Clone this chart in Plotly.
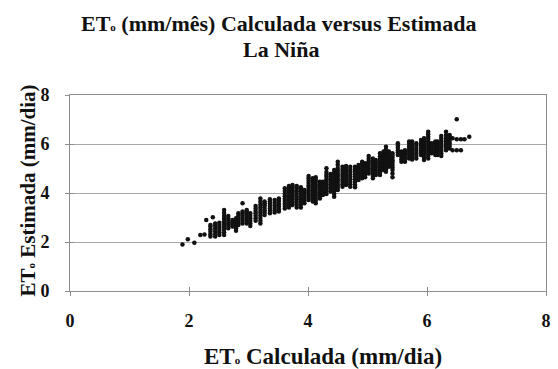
import plotly.graph_objects as go

# ET0 calculada (x) columns and the ET0 estimada (y) values read in each column
col_x = [1.89, 1.98, 2.09, 2.19, 2.26, 2.29, 2.36, 2.40, 2.44, 2.51,
         2.59, 2.66, 2.73, 2.79, 2.83, 2.90, 2.97, 3.03, 3.12, 3.20,
         3.27, 3.36, 3.44, 3.51, 3.61, 3.68, 3.74, 3.81, 3.88, 3.94,
         4.01, 4.08, 4.13, 4.20, 4.25, 4.31, 4.38, 4.44, 4.50, 4.58,
         4.64, 4.71, 4.79, 4.85, 4.91, 4.96, 5.02, 5.09, 5.14, 5.21,
         5.27, 5.31, 5.36, 5.42, 5.51, 5.57, 5.63, 5.70, 5.75, 5.82,
         5.90, 5.95, 6.02, 6.08, 6.14, 6.18, 6.24, 6.32, 6.38, 6.43,
         6.50, 6.57, 6.63, 6.71]

col_y = [
    [1.90], [2.11], [1.97], [2.29], [2.31], [2.90],
    [2.22, 2.32, 2.42, 2.52, 2.62, 2.69],
    [3.01],
    [2.22, 2.33, 2.44, 2.55, 2.66, 2.76],
    [2.29, 2.39, 2.49, 2.59, 2.69, 2.79],
    [2.29, 2.40, 2.51, 2.62, 2.73, 2.84, 2.95, 3.06, 3.18, 3.31],
    [2.56, 2.66, 2.76, 2.86, 2.96, 3.06],
    [2.63, 2.72, 2.81, 2.90],
    [2.46, 2.56, 2.66, 2.76, 2.86, 2.97],
    [2.69, 2.79, 2.89, 2.99, 3.08, 3.17],
    [2.76, 2.86, 2.96, 3.06, 3.15, 3.24, 3.58],
    [2.76, 2.86, 2.96, 3.06, 3.16, 3.24, 3.31],
    [2.65, 2.76, 2.86, 2.96, 3.06, 3.17],
    [2.87, 2.97, 3.07, 3.17, 3.27, 3.37, 3.47],
    [2.76, 2.87, 2.98, 3.09, 3.20, 3.31, 3.42, 3.53, 3.65, 3.78],
    [3.10, 3.20, 3.30, 3.40, 3.50, 3.58, 3.65],
    [3.17, 3.27, 3.37, 3.47, 3.57, 3.66, 3.74],
    [3.20, 3.30, 3.40, 3.50, 3.60, 3.71],
    [3.24, 3.34, 3.44, 3.54, 3.64, 3.71, 3.78],
    [3.37, 3.47, 3.57, 3.67, 3.77, 3.87, 3.97, 4.08, 4.19],
    [3.41, 3.51, 3.61, 3.71, 3.81, 3.91, 4.01, 4.10, 4.20, 4.29],
    [3.51, 3.61, 3.71, 3.81, 3.91, 4.01, 4.11, 4.22, 4.33],
    [3.41, 3.52, 3.63, 3.74, 3.85, 3.96, 4.07, 4.18, 4.29],
    [3.41, 3.52, 3.63, 3.74, 3.85, 3.96, 4.07, 4.15, 4.23],
    [3.58, 3.68, 3.78, 3.88, 3.98, 4.05, 4.12],
    [3.71, 3.81, 3.91, 4.01, 4.11, 4.21, 4.31, 4.41, 4.50, 4.60, 4.69],
    [3.65, 3.75, 3.85, 3.95, 4.05, 4.15, 4.25, 4.35, 4.45, 4.52, 4.60],
    [3.58, 3.69, 3.80, 3.91, 4.02, 4.13, 4.24, 4.35, 4.46, 4.55, 4.64],
    [3.78, 3.88, 3.98, 4.08, 4.18, 4.28, 4.37, 4.46],
    [3.92, 4.02, 4.12, 4.22, 4.32, 4.40, 4.46],
    [3.96, 4.06, 4.16, 4.26, 4.36, 4.46, 4.56, 4.66, 4.76, 4.86, 5.01],
    [4.06, 4.16, 4.26, 4.36, 4.46, 4.56, 4.66, 4.78],
    [3.85, 3.96, 4.07, 4.18, 4.29, 4.40, 4.51, 4.62, 4.73, 4.84, 4.94],
    [4.12, 4.22, 4.32, 4.42, 4.52, 4.62, 4.72, 4.82, 4.92, 5.02, 5.15, 5.28],
    [4.26, 4.36, 4.46, 4.56, 4.66, 4.76, 4.86, 4.96, 5.07],
    [4.33, 4.43, 4.53, 4.63, 4.73, 4.83, 4.93, 5.02, 5.10],
    [4.26, 4.36, 4.46, 4.56, 4.66, 4.76, 4.86, 4.96, 5.07],
    [4.23, 4.34, 4.45, 4.56, 4.67, 4.78, 4.89, 4.98, 5.07],
    [4.53, 4.63, 4.73, 4.83, 4.93, 5.03, 5.14],
    [4.60, 4.70, 4.80, 4.90, 5.00, 5.10, 5.19, 5.28],
    [4.64, 4.74, 4.84, 4.94, 5.04, 5.13, 5.21],
    [4.80, 4.90, 5.00, 5.10, 5.20, 5.30, 5.40, 5.51],
    [4.60, 4.70, 4.80, 4.90, 5.00, 5.10, 5.20, 5.31, 5.41],
    [4.73, 4.83, 4.93, 5.03, 5.13, 5.24, 5.35],
    [4.73, 4.84, 4.95, 5.06, 5.17, 5.28, 5.39, 5.50, 5.62],
    [4.94, 5.04, 5.14, 5.24, 5.34, 5.44, 5.54, 5.62, 5.69],
    [4.87, 4.97, 5.07, 5.17, 5.27, 5.37, 5.47, 5.57, 5.67, 5.78, 5.89],
    [5.07, 5.17, 5.27, 5.37, 5.47, 5.57, 5.69],
    [4.64, 4.80, 4.94, 5.04, 5.14, 5.24, 5.34, 5.44, 5.53, 5.62],
    [5.55, 5.65, 5.75, 5.85, 5.94, 6.03],
    [5.28, 5.38, 5.48, 5.58, 5.69],
    [5.28, 5.38, 5.48, 5.58, 5.67, 5.75],
    [5.41, 5.51, 5.61, 5.71, 5.81, 5.91, 6.01, 6.10],
    [5.37, 5.47, 5.57, 5.67, 5.77, 5.87, 5.97, 6.10],
    [5.41, 5.51, 5.61, 5.71, 5.81, 5.92, 6.03],
    [5.55, 5.65, 5.75, 5.85, 5.95, 6.05, 6.16],
    [5.35, 5.45, 5.55, 5.65, 5.75, 5.85, 5.95, 6.05, 6.14, 6.23],
    [5.41, 5.51, 5.61, 5.71, 5.81, 5.91, 6.01, 6.11, 6.21, 6.31, 6.40, 6.50],
    [5.62, 5.72, 5.82, 5.92, 6.03],
    [5.55, 5.65, 5.75, 5.85, 5.95, 6.03, 6.10],
    [5.55, 5.65, 5.75, 5.85, 5.95, 6.03, 6.10],
    [5.51, 5.61, 5.71, 5.81, 5.91, 6.01, 6.11, 6.22, 6.33],
    [5.75, 5.85, 5.95, 6.05, 6.15, 6.25, 6.37, 6.50],
    [5.82, 5.92, 6.02, 6.12, 6.22, 6.30, 6.37],
    [5.75, 6.23],
    [5.75, 6.19, 7.01],
    [5.75, 6.19],
    [6.19],
    [6.30],
]

tick_vals = [0, 2, 4, 6, 8]
tick_text = ["0", "2", "4", "6", "8"]

SUB_O = '<span style="font-size:11px">o</span>'
title_line1 = "<b>ET" + SUB_O + " (mm/mês) Calculada versus Estimada</b>"
title_line2 = "<b>La Niña</b>"
x_title = "<b>ET" + SUB_O + " Calculada (mm/dia)</b>"
y_title = "<b>ET" + SUB_O + " Estimada (mm/dia)</b>"

xs, ys = [], []
for cx, cy in zip(col_x, col_y):
    for v in cy:
        xs.append(cx)
        ys.append(v)

FONT = "Liberation Serif"
INK = "#111111"
GRID = "#a8a8a8"
AXIS = "#8c8c8c"

# plot area in pixels: left 70, right 551, top 95, bottom 291
PL, PR, PT, PB = 70, 551, 95, 291
PW, PH = PR - PL, PB - PT


def px_x(px):
    return (px - PL) / PW


def px_y(py):
    return (PB - py) / PH


fig = go.Figure()
fig.add_trace(go.Scatter(
    x=xs, y=ys, mode="markers",
    marker=dict(size=4.5, color=INK, symbol="circle", line=dict(width=0)),
    showlegend=False, hoverinfo="skip",
))
# empty trace so the overlay axes (inner half of the crossing ticks) are drawn
fig.add_trace(go.Scatter(x=[], y=[], xaxis="x2", yaxis="y2",
                         showlegend=False, hoverinfo="skip"))

tickfont = dict(family=FONT, size=18, color=INK, weight="bold")

annotations = [
    dict(text=title_line1, xref="paper", yref="paper",
         x=px_x(281), y=px_y(23), xanchor="center", yanchor="middle",
         showarrow=False, font=dict(family=FONT, size=22, color=INK)),
    dict(text=title_line2, xref="paper", yref="paper",
         x=px_x(283), y=px_y(49), xanchor="center", yanchor="middle",
         showarrow=False, font=dict(family=FONT, size=22, color=INK)),
    dict(text=x_title, xref="paper", yref="paper",
         x=px_x(326), y=px_y(356),
         xanchor="center", yanchor="middle", showarrow=False,
         font=dict(family=FONT, size=23, color=INK)),
    dict(text=y_title, xref="paper", yref="paper",
         x=px_x(28), y=px_y(190),
         xanchor="center", yanchor="middle", showarrow=False, textangle=-90,
         font=dict(family=FONT, size=21, color=INK)),
]

common = dict(range=[0, 8], tickvals=tick_vals, zeroline=False)

fig.update_layout(
    width=558, height=369,
    margin=dict(l=PL, r=558 - PR, t=PT, b=369 - PB),
    paper_bgcolor="white", plot_bgcolor="white",
    font=dict(family=FONT, color=INK),
    xaxis=dict(**common, ticktext=tick_text,
               showgrid=False,
               showline=True, linecolor=AXIS, linewidth=1, mirror=True,
               ticks="outside", ticklen=4, tickcolor=AXIS,
               ticklabelstandoff=9, ticklabeloverflow="allow",
               tickfont=tickfont),
    yaxis=dict(**common, ticktext=tick_text,
               showgrid=True, gridcolor=GRID, gridwidth=1,
               showline=True, linecolor=AXIS, linewidth=1, mirror=True,
               ticks="outside", ticklen=4, tickcolor=AXIS,
               ticklabelstandoff=12, ticklabeloverflow="allow",
               tickfont=tickfont),
    xaxis2=dict(**common, overlaying="x", anchor="y2", side="bottom",
                showgrid=False, showline=False, showticklabels=False,
                ticks="inside", ticklen=4, tickcolor=AXIS),
    yaxis2=dict(**common, overlaying="y", anchor="x2", side="left",
                showgrid=False, showline=False, showticklabels=False,
                ticks="inside", ticklen=4, tickcolor=AXIS),
    annotations=annotations,
)

fig.write_html("out.html",
               config={"displayModeBar": False, "staticPlot": True},
               post_script="document.body.style.margin='0px';"
                           "document.body.style.overflow='hidden';")
